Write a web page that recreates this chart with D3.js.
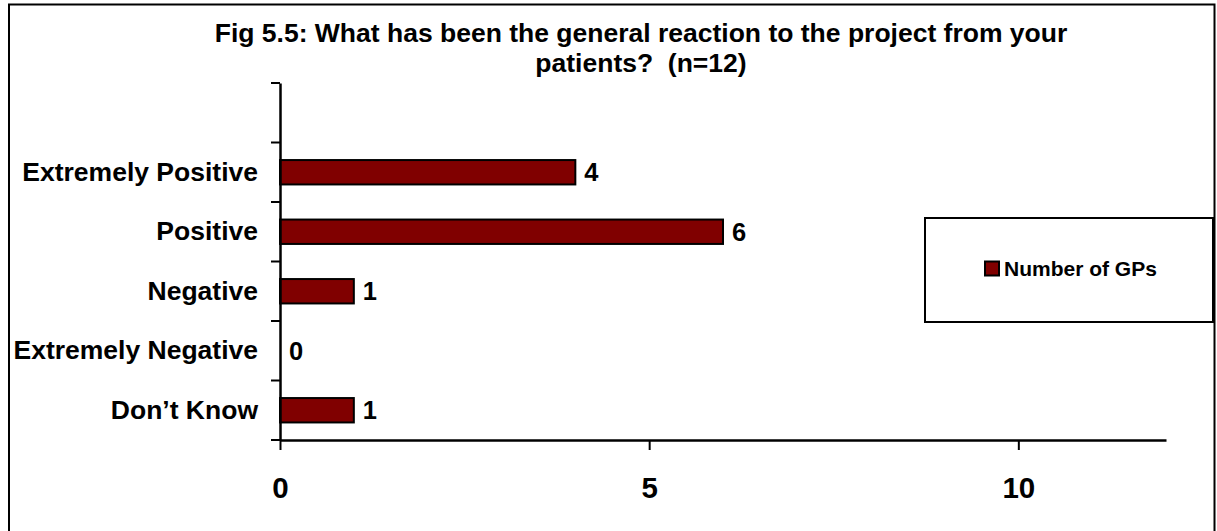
<!DOCTYPE html>
<html>
<head>
<meta charset="utf-8">
<script src="https://cdn.jsdelivr.net/npm/d3@7"></script>
<style>
  html, body { margin: 0; padding: 0; background: #fff; }
  svg { display: block; }
  text { font-family: "Liberation Sans", Arial, sans-serif; font-weight: bold; fill: #000; }
</style>
</head>
<body>
<svg id="chart" width="1217" height="531"></svg>
<script>
// Survey responses, top to bottom as listed on the chart
const categories = ["Extremely Positive", "Positive", "Negative", "Extremely Negative", "Don\u2019t Know"];
const numberOfGPs = [4, 6, 1, 0, 1];
const xTickValues = [0, 5, 10];
const titleLines = ["Fig 5.5: What has been the general reaction to the project from your", "patients?  (n=12)"];
const seriesName = "Number of GPs";

const barColor = "#800000";
const svg = d3.select("#chart");

// Outer frame of the chart area
svg.append("rect")
  .attr("x", 9).attr("y", 4.5)
  .attr("width", 1205.5).attr("height", 540)
  .attr("fill", "#fff").attr("stroke", "#000").attr("stroke-width", 2);

// Title (two centred lines)
const title = svg.append("g");
title.selectAll("text")
  .data(titleLines)
  .join("text")
  .attr("x", 641)
  .attr("y", (d, i) => 42 + i * 29.5)
  .attr("text-anchor", "middle")
  .attr("xml:space", "preserve")
  .style("white-space", "pre")
  .style("font-size", "26.5px")
  .text(d => d);

// Scales: one empty slot above the first category
const slots = ["", ...categories];
const y = d3.scaleBand().domain(slots).range([83, 440]).paddingInner(0).paddingOuter(0);
const x = d3.scaleLinear().domain([0, 12]).range([280, 1166]);
const barH = y.bandwidth() * 0.41;

const rows = categories.map((c, i) => ({ c, v: numberOfGPs[i] }));

// Bars
svg.append("g").selectAll("rect")
  .data(rows)
  .join("rect")
  .attr("x", x(0))
  .attr("y", d => y(d.c) + (y.bandwidth() - barH) / 2)
  .attr("width", d => x(d.v) - x(0))
  .attr("height", barH)
  .attr("fill", barColor)
  .attr("stroke", d => d.v > 0 ? "#000" : "none")
  .attr("stroke-width", 2);

// Value labels
svg.append("g").selectAll("text")
  .data(rows)
  .join("text")
  .attr("x", d => x(d.v) + 9)
  .attr("y", d => y(d.c) + y.bandwidth() / 2)
  .attr("dy", "0.36em")
  .style("font-size", "25.5px")
  .text(d => d.v);

// X axis
const xAxis = svg.append("g")
  .attr("transform", "translate(0,440)")
  .call(d3.axisBottom(x).tickValues(xTickValues).tickSize(10).tickPadding(27).tickSizeOuter(0));
xAxis.select(".domain").attr("stroke", "#000").attr("stroke-width", 2.5);
xAxis.selectAll(".tick line").attr("stroke", "#000").attr("stroke-width", 2);
xAxis.selectAll(".tick text").style("font-size", "29.5px").style("font-family", "\"Liberation Sans\", Arial, sans-serif").style("font-weight", "bold");

// Y axis: labels at band centres, tick marks on band boundaries
const yAxis = svg.append("g")
  .attr("transform", "translate(280,0)")
  .call(d3.axisLeft(y).tickSize(0).tickPadding(22).tickSizeOuter(0));
yAxis.select(".domain").attr("stroke", "#000").attr("stroke-width", 2.5);
yAxis.selectAll(".tick text").style("font-size", "26.5px").style("font-family", "\"Liberation Sans\", Arial, sans-serif").style("font-weight", "bold");
const boundaries = slots.map(s => y(s)).concat([y.range()[1]]);
yAxis.append("g").selectAll("line")
  .data(boundaries)
  .join("line")
  .attr("x1", -9).attr("x2", 0)
  .attr("y1", d => d).attr("y2", d => d)
  .attr("stroke", "#000").attr("stroke-width", 2);

// Legend
const legend = svg.append("g");
legend.append("rect")
  .attr("x", 925).attr("y", 218).attr("width", 288).attr("height", 104)
  .attr("fill", "#fff").attr("stroke", "#000").attr("stroke-width", 2);
legend.append("rect")
  .attr("x", 985).attr("y", 261.5).attr("width", 14).attr("height", 14)
  .attr("fill", barColor).attr("stroke", "#000").attr("stroke-width", 2);
legend.append("text")
  .attr("x", 1004).attr("y", 268.5).attr("dy", "0.36em")
  .style("font-size", "21px").text(seriesName);
</script>
</body>
</html>
